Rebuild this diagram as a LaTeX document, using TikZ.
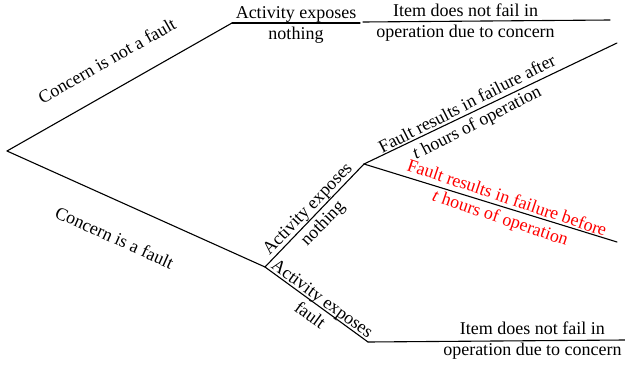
\documentclass[tikz,border=0pt]{standalone}
\usepackage{fontspec}
\setmainfont{Liberation Serif}
\begin{document}
\begin{tikzpicture}[x=1pt,y=-1pt,line width=1.1pt,line cap=round,
  lbl/.style={font=\fontsize{18}{21}\selectfont,align=center,inner sep=0pt},
  bad/.style={lbl,text=red},
  pair/.style={sloped,yshift=-2pt}]
\useasboundingbox (0,0) rectangle (625,367);
% branch points of the event tree
\coordinate (root) at (7,151);
\coordinate (nf)   at (232,23);
\coordinate (nfA)  at (360,23);
\coordinate (nfB)  at (363,22);
\coordinate (nfE)  at (610,20);
\coordinate (f)    at (265,267);
\coordinate (fn)   at (364,164);
\coordinate (after) at (617,43);
\coordinate (before) at (617,242);
\coordinate (fx)   at (368,342);
\coordinate (fxE)  at (625,340);
% concern is not a fault
\draw (root) -- node[lbl,pos=0.508,sloped,anchor=base,yshift=23pt] {Concern is not a fault} (nf);
\draw (nf) -- node[lbl,midway,yshift=-1.5pt] {Activity exposes\\nothing} (nfA);
\draw (nfB) -- node[lbl,pos=0.415,yshift=-1pt] {Item does not fail in\\operation due to concern} (nfE);
% concern is a fault
\draw (root) -- node[lbl,pos=0.472,sloped,anchor=base,yshift=-41pt] {Concern is a fault} (f);
\draw (f) -- node[lbl,midway,pair] {Activity exposes\\nothing} (fn);
\draw (fn) -- node[lbl,pos=0.425,pair,rotate=1.5] {Fault results in failure after\\\textit{t} hours of operation} (after);
\draw (fn) -- node[bad,pos=0.553,pair,rotate=-1.4] {Fault results in failure before\\\textit{t} hours of operation} (before);
\draw (f) -- node[lbl,pos=0.51,pair] {Activity exposes\\fault} (fx);
\draw (fx) -- node[lbl,pos=0.64] {Item does not fail in\\operation due to concern} (fxE);
\end{tikzpicture}
\end{document}
